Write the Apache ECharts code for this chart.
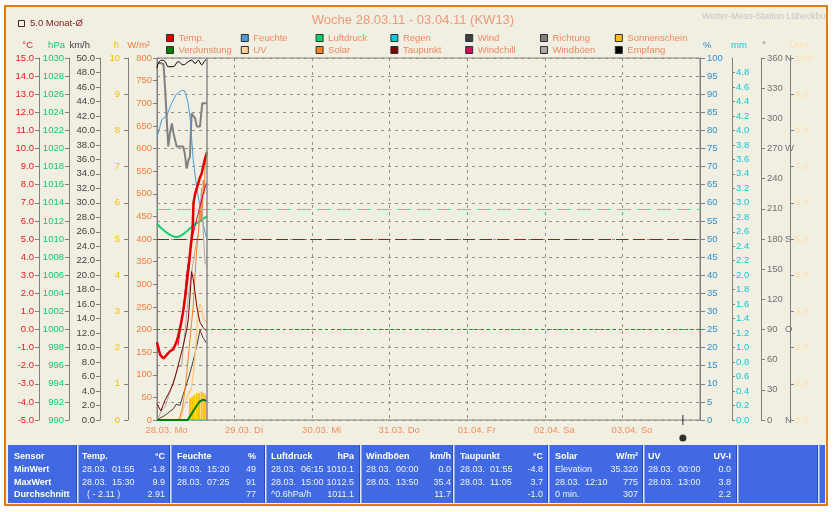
<!DOCTYPE html>
<html><head><meta charset="utf-8">
<script src="https://cdn.jsdelivr.net/npm/echarts@6/dist/echarts.min.js"></script>
<style>html,body{margin:0;padding:0;background:#fff}#c{width:833px;height:512px}</style>
</head><body><div id="c"></div>
<script>
const FONT = '"Liberation Sans", Arial, sans-serif';

// ---- data (x = hours since 28.03. 00:00) ----
const dayLabels = ['28.03. Mo','29.03. Di','30.03. Mi','31.03. Do','01.04. Fr','02.04. Sa','03.04. So'];
const tempData = [[0,-0.7],[0.5,-1.1],[1.0,-1.4],[1.5,-1.5],[2.0,-1.6],[2.5,-1.5],[3.0,-1.4],[3.5,-1.3],[4.0,-1.2],[4.5,-1.2],[5.0,-1.1],[5.5,-1.0],[6.0,-0.7],[6.5,-0.4],[7.0,0.0],[7.5,0.4],[8.0,0.9],[8.5,1.5],[9.0,2.2],[9.5,3.0],[10.0,3.8],[10.5,4.7],[11.0,5.5],[11.3,7.0],[11.8,7.5],[12.3,7.8],[12.8,8.1],[13.3,8.4],[13.8,8.6],[14.3,9.0],[14.8,9.4],[15.5,9.8]];
const humidityData = [[0,78],[1.5,83],[3,84],[4.5,87.5],[6,90],[7.5,91],[8.5,91],[9.5,88],[10.2,84],[10.7,78],[11.2,72],[12.3,64],[13.3,59],[14.3,54],[15.4,50]];
const pressureData = [[0,1011.7],[1,1011.3],[2,1011.0],[3,1010.7],[4,1010.45],[5,1010.3],[6,1010.2],[7,1010.3],[8,1010.5],[9,1010.8],[10,1011.1],[11,1011.4],[12,1011.7],[13,1011.9],[14,1012.2],[15,1012.4],[15.5,1012.5]];
const rainData = [[0,0],[15.5,0]];
const windData = [[0,0],[1,0.3],[2,0.5],[3,0.8],[4,1.2],[5,1.5],[6,2.2],[6.6,2.4],[7.1,2.0],[8.1,3.5],[9.2,5.0],[10.2,6.5],[11.2,8.2],[12.3,10.2],[13.3,12.4],[14.3,11.3],[15.4,10.6]];
const gustData = [[0,0],[0.5,0.2],[1.5,1.4],[2.5,1.8],[3.5,3.2],[4.5,4.6],[5.6,6.0],[6.6,7.4],[7.6,7.4],[8.7,12.4],[9.7,17.0],[10.7,20.3],[11.8,23.5],[12.8,25.8],[13.3,29.0],[13.8,32.0],[14.3,26.0],[14.9,21.6],[15.4,21.4]];
const directionData = [[0,355],[1,355],[2,354],[2.5,330],[3.0,300],[3.5,272],[4.0,285],[4.6,295],[5.1,285],[5.6,285],[6.1,272],[7,272],[8.1,272],[8.6,265],[9.2,250],[9.7,258],[10.2,262],[10.7,305],[11.3,305],[11.8,300],[12.3,292],[13.3,292],[14.0,315],[15.5,315]];
const sunHours = [10.2,10.9,11.5,12.3,13.0,13.8,14.5,15.2];
const sunValues = [0.60,0.64,0.69,0.74,0.75,0.78,0.74,0.69];
const evapData = [[0,0],[9.5,0],[10.2,0.05],[11.2,0.12],[12.3,0.20],[13.3,0.26],[14.3,0.28],[15.4,0.26]];
const uvData = [[0,0],[7,0],[7.6,0.1],[8.1,0.3],[9.2,0.6],[9.7,0.7],[10.7,0.9],[11.3,1.3],[11.8,1.8],[12.3,2.5],[12.8,3.0],[13.3,3.2],[13.8,3.1],[14.3,2.8],[15.4,2.7]];
const solarData = [[0,0],[6.6,0],[7.1,7],[7.6,20],[8.1,37],[8.7,70],[9.2,103],[9.7,140],[10.2,177],[10.7,215],[11.2,250],[11.8,324],[12.3,376],[12.8,410],[13.3,480],[13.6,440],[13.8,500],[14.1,470],[14.3,530],[14.6,500],[14.9,560],[15.4,595]];
const dewData = [[0,-4.1],[1.2,-4.5],[2.5,-3.9],[4,-3.4],[5,-3.0],[6.1,-2.3],[7.1,-1.6],[8.1,-0.9],[9.2,0.0],[9.7,0.6],[10.2,1.8],[10.7,3.2],[11.2,2.8],[11.8,2.0],[12.3,1.3],[12.8,0.8],[13.3,0.4],[14.3,0.1],[15.4,-0.1]];
const windchillData = [[6.5,-0.9],[8.1,1.0],[9.2,3.1],[10.2,4.3],[11.2,5.3],[12.3,6.1],[13.3,6.8],[14.3,7.5],[15.3,8.1]];
const receptionData = [[0,97.2],[0.4,98.5],[1.45,99.4],[2.5,99.0],[3.5,97.6],[5,97.6],[6.6,99.0],[8.1,98.1],[9.7,99.0],[10.7,99.4],[11.8,98.5],[12.8,99.4],[13.8,98.1],[14.9,99.4],[15.4,99.6]];
const monthAvgTemp = 5.0;
const stdPressure = 1013.25;
const nowHour = 15.5;
const moonHour = 162.7;

const dirLetters = {0:'N',90:'O',180:'S',270:'W',360:'N'};

const legendRow1 = ['Temp.','Feuchte','Luftdruck','Regen','Wind','Richtung','Sonnenschein'];
const legendRow2 = ['Verdunstung','UV','Solar','Taupunkt','Windchill','Windböen','Empfang'];

const tableRowLabels = ['Sensor','MinWert','MaxWert','Durchschnitt'];
const tableHeaders = [['Temp.','°C'],['Feuchte','%'],['Luftdruck','hPa'],['Windböen','km/h'],['Taupunkt','°C'],['Solar','W/m²'],['UV','UV-I']];
const tableLeftText = [['28.03.  01:55','28.03.  15:30','  ( - 2.11 )'],['28.03.  15:20','28.03.  07:25',''],['28.03.  06:15','28.03.  15:00','^0.6hPa/h'],['28.03.  00:00','28.03.  13:50',''],['28.03.  01:55','28.03.  11:05',''],['Elevation','28.03.  12:10','0 min.'],['28.03.  00:00','28.03.  13:00','']];
const tableRightText = [['-1.8','9.9','2.91'],['49','91','77'],['1010.1','1012.5','1011.1'],['0.0','35.4','11.7'],['-4.8','3.7','-1.0'],['35.320','775','307'],['0.0','3.8','2.2']];

// ---- layout ----
const colLeft = [82,177,271,366,460,555,648];
const colRight = [165,256,354,451,543,638,731];
const colSeps = [77,170,265,360,453,548,643,737,818];
const rowY = [457,470,483,495];
const TICK_FS = 9.5;
const LEGEND_LEFT = 166, LEGEND_STEP = 74.8, LEGEND_TOPS = [33, 45];

const C = {
  temp:'#e00000', hum:'#4a9ad8', press:'#10d070', rain:'#10c8d8', wind:'#404040', dir:'#808080',
  sun:'#ffc400', evap:'#008000', uv:'#ffd49a', solar:'#ff8020', dew:'#800000', chill:'#e00060',
  gust:'#a8a8a8', rec:'#000000'
};

function yAx(pos, offset, min, max, interval, color, fmt, extra) {
  return Object.assign({
    type:'value', position:pos, offset:offset, min:min, max:max, interval:interval,
    axisLine:{show:true, onZero:false, lineStyle:{color:'#808080'}},
    axisTick:{show:true, length:4, lineStyle:{color:'#808080'}},
    splitLine:{show:false},
    axisLabel:{color:color, fontSize:TICK_FS, fontFamily:FONT, margin:5, formatter:fmt, showMinLabel:true, showMaxLabel:true}
  }, extra || {});
}
const f1 = v => v.toFixed(1);
const f0 = v => String(Math.round(v));

const yAxes = [
  yAx('left',118,-5,15,1,'#e02020',f1,{splitLine:{show:true, lineStyle:{color:'#909090', type:[3,4], width:1}}}), //0 °C
  yAx('left',88,990,1030,2,'#10cc70',f0), //1 hPa
  yAx('left',57,0,50,2,'#404040',f1), //2 km/h
  yAx('left',29,0,10,1,'#f8c000',f0), //3 h
  yAx('left',0,0,800,50,'#f08040',f0), //4 W/m2
  yAx('right',0,0,100,5,'#3090d0',f0,{axisTick:{show:true,length:5,lineStyle:{color:'#808080'}}}), //5 %
  yAx('right',32,0,5,0.2,'#10c8d8',f1,{axisTick:{show:true,length:3,lineStyle:{color:'#808080'}}}), //6 mm
  yAx('right',61,0,360,30,'#707070',null), //7 deg
  yAx('right',90,0,10,1,'#ffe0a8',f1) //8 UV
];
yAxes[5].axisLabel.margin = 7;
yAxes[6].axisLabel.margin = 4;
yAxes[6].axisLabel.showMaxLabel = false;
yAxes[3].axisLabel.margin = 8;
yAxes[7].axisLabel.margin = 6;
yAxes[7].axisLabel.formatter = v => dirLetters[v] !== undefined ? '{n|' + v + '}{d|' + dirLetters[v] + '}' : '{n|' + v + '}';
yAxes[7].axisLabel.rich = {n:{width:18, color:'#707070', fontSize:TICK_FS, fontFamily:FONT}, d:{color:'#707070', fontSize:TICK_FS, fontFamily:FONT}};

function line(name, data, yIdx, color, width, extra) {
  return Object.assign({
    type:'line', name:name, data:data, yAxisIndex:yIdx, showSymbol:false, symbol:'none',
    lineStyle:{color:color, width:width}, itemStyle:{color:color}, silent:true, animation:false
  }, extra || {});
}

const series = [
  {type:'bar', name:'Sonnenschein', yAxisIndex:3, data:sunHours.map((h,i)=>[h,sunValues[i]]), barWidth:2, itemStyle:{color:C.sun}, silent:true},
  line('Richtung', directionData, 7, C.dir, 2),
  line('Empfang', receptionData, 5, C.rec, 1, {smooth:0.4}),
  line('Feuchte', humidityData, 5, C.hum, 1),
  line('Luftdruck', pressureData, 1, C.press, 2, {markLine:{silent:true, symbol:'none', label:{show:false}, data:[{yAxis:stdPressure, lineStyle:{color:'#50e098', type:[14,6], width:1}}]}}),
  line('Regen', rainData, 6, C.rain, 1),
  line('Wind', windData, 2, C.wind, 1),
  line('Windböen', gustData, 2, C.gust, 1),
  line('UV', uvData, 8, '#ffcc88', 1.5, {itemStyle:{color:C.uv}}),
  line('Solar', solarData, 4, C.solar, 1),
  line('Verdunstung', evapData, 6, C.evap, 2),
  line('Taupunkt', dewData, 0, C.dew, 1),
  line('Windchill', windchillData, 0, C.chill, 1),
  line('Temp.', tempData, 0, C.temp, 2.5, {markLine:{silent:true, symbol:'none', label:{show:false}, data:[
    {yAxis:monthAvgTemp, lineStyle:{color:'#a01818', type:[12,5], width:1}},
    {yAxis:0, lineStyle:{color:'#ff2020', type:[3,3], width:1}},
    {xAxis:nowHour, lineStyle:{color:'#8a8a8a', type:'solid', width:1.5}}
  ]}}),
  {type:'scatter', yAxisIndex:0, data:[[moonHour,-5.0]], symbol:'rect', symbolSize:[1,10], itemStyle:{color:'#000'}, clip:false, silent:true},
  {type:'scatter', yAxisIndex:0, data:[[moonHour,-6.0]], symbol:'circle', symbolSize:7, itemStyle:{color:'#000'}, clip:false, silent:true}
];

const legends = [];
[legendRow1, legendRow2].forEach((row, r) => row.forEach((name, i) => legends.push({
  data:[name], left:LEGEND_LEFT + i*LEGEND_STEP, top:LEGEND_TOPS[r], orient:'horizontal',
  itemWidth:7, itemHeight:7, itemGap:4, icon:'rect', selectedMode:false, padding:0,
  itemStyle:{borderColor:'#303030', borderWidth:1},
  textStyle:{color:'#f08860', fontSize:9.5, fontFamily:FONT}
})));

const graphic = [];
graphic.push({type:'rect', z:-10, shape:{x:5, y:6, width:822, height:499}, style:{fill:'#f1efe2', stroke:'#e07c10', lineWidth:2}});
graphic.push({type:'rect', z:5, shape:{x:18.5, y:20.5, width:6, height:6}, style:{fill:'none', stroke:'#502020', lineWidth:1}});
graphic.push({type:'text', z:5, x:30, y:23.5, style:{text:'5.0 Monat-Ø', fill:'#802020', font:'9.5px ' + FONT, textVerticalAlign:'middle'}});
graphic.push({type:'text', z:5, x:413, y:20, style:{text:'Woche 28.03.11 - 03.04.11 (KW13)', fill:'#f09878', font:'13px ' + FONT, textAlign:'center', textVerticalAlign:'middle'}});
graphic.push({type:'text', z:5, x:702, y:17, style:{text:'Wetter-Mess-Station Lübeckbucht', fill:'#c4c4c4', font:'9px ' + FONT, textVerticalAlign:'middle'}});
graphic.push({type:'rect', z:6, shape:{x:828, y:0, width:5, height:512}, style:{fill:'#ffffff'}});
graphic.push({type:'rect', z:7, shape:{x:826, y:6, width:2, height:499}, style:{fill:'#e07c10'}});
const leftNames = [['°C',33,'#e02020'],['hPa',65,'#10cc70'],['km/h',90,'#404040'],['h',119,'#f8c000'],['W/m²',150,'#f08040']];
leftNames.forEach(n => graphic.push({type:'text', z:5, x:n[1], y:45, style:{text:n[0], fill:n[2], font:'9.5px ' + FONT, textAlign:'right', textVerticalAlign:'middle'}}));
const rightNames = [['%',703,'#3090d0'],['mm',731,'#10c8d8'],['°',762,'#707070'],['UV-I',790,'#ffe0a8']];
rightNames.forEach(n => graphic.push({type:'text', z:5, x:n[1], y:45, style:{text:n[0], fill:n[2], font:'9.5px ' + FONT, textAlign:'left', textVerticalAlign:'middle'}}));
graphic.push({type:'rect', z:8, shape:{x:8, y:445, width:817, height:58}, style:{fill:'#4169e1'}});
colSeps.forEach(x => {
  graphic.push({type:'rect', z:9, shape:{x:x-1, y:445, width:1, height:58}, style:{fill:'#2a4cb8'}});
  graphic.push({type:'rect', z:9, shape:{x:x, y:445, width:1.5, height:58}, style:{fill:'#dfe6ff'}});
});
tableRowLabels.forEach((t,i) => graphic.push({type:'text', z:10, x:14, y:rowY[i], style:{text:t, fill:'#ffffff', font:'bold 9px ' + FONT, textVerticalAlign:'middle'}}));
tableHeaders.forEach((h,c) => {
  graphic.push({type:'text', z:10, x:colLeft[c], y:rowY[0], style:{text:h[0], fill:'#ffffff', font:'bold 9px ' + FONT, textVerticalAlign:'middle'}});
  graphic.push({type:'text', z:10, x:colRight[c], y:rowY[0], style:{text:h[1], fill:'#ffffff', font:'bold 9px ' + FONT, textAlign:'right', textVerticalAlign:'middle'}});
  for (let r = 0; r < 3; r++) {
    graphic.push({type:'text', z:10, x:colLeft[c], y:rowY[r+1], style:{text:tableLeftText[c][r], fill:'#eef1ff', font:'9px ' + FONT, textVerticalAlign:'middle'}});
    graphic.push({type:'text', z:10, x:colRight[c], y:rowY[r+1], style:{text:tableRightText[c][r], fill:'#eef1ff', font:'9px ' + FONT, textAlign:'right', textVerticalAlign:'middle'}});
  }
});

const option = {
  animation:false,
  backgroundColor:'#ffffff',
  textStyle:{fontFamily:FONT},
  grid:{left:157, right:133, top:58, bottom:92, show:true, borderColor:'#808080', borderWidth:1, backgroundColor:'transparent', containLabel:false, outerBoundsMode:'none'},
  xAxis:{
    type:'value', min:0, max:168, interval:24,
    axisLine:{show:false}, axisTick:{show:false},
    splitLine:{show:true, lineStyle:{color:'#909090', type:[3,4], width:1}},
    axisLabel:{
      margin:5, showMinLabel:true, showMaxLabel:false, hideOverlap:false,
      formatter:(v) => { const i = Math.round(v/24); return i < dayLabels.length ? '{s| }{t|' + dayLabels[i] + '}' : ''; },
      rich:{s:{width:19, fontSize:TICK_FS}, t:{color:'#f09060', fontSize:TICK_FS, fontFamily:FONT}}
    }
  },
  yAxis:yAxes,
  legend:legends,
  graphic:graphic,
  series:series
};

const chart = echarts.init(document.getElementById('c'), null, {renderer:'canvas'});
chart.setOption(option);
</script>
</body></html>
